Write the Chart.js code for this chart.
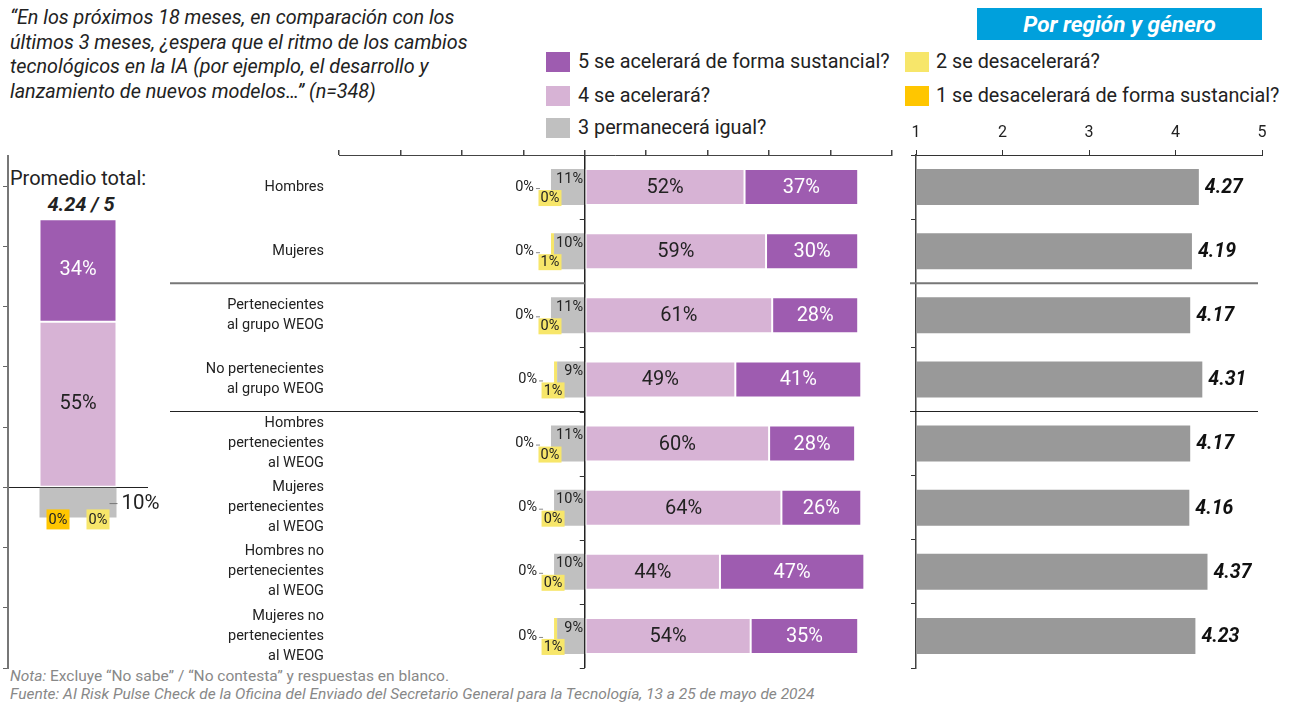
<!DOCTYPE html>
<html>
<head>
<meta charset="utf-8">
<script src="https://cdn.jsdelivr.net/npm/chart.js@4/dist/chart.umd.min.js"></script>
<style>
  body { margin: 0; background: #fff; font-family: Roboto, sans-serif; color: #222; }
  #wrap { position: relative; width: 1293px; height: 702px; overflow: hidden; }
  canvas { position: absolute; left: 0; top: 0; }
  .t { position: absolute; white-space: nowrap; }
  .sw { position: absolute; width: 24px; height: 20px; }
  .leg { position: absolute; font-size: 19.8px; line-height: 20px; color: #222; white-space: nowrap; }
</style>
</head>
<body>
<div id="wrap">
  <div class="t" style="left:10px;top:6px;font-size:19.8px;line-height:24.5px;font-style:italic;color:#222">“En los próximos 18 meses, en comparación con los<br>últimos 3 meses, ¿espera que el ritmo de los cambios<br>tecnológicos en la IA (por ejemplo, el desarrollo y<br>lanzamiento de nuevos modelos…” (n=348)</div>

  <div class="t" style="left:977px;top:8px;width:285px;height:32px;background:#00a0dc;color:#fff;font-weight:bold;font-style:italic;font-size:22.5px;line-height:32px;text-align:center">Por región y género</div>

  <div class="sw" style="left:546px;top:52px;background:#9e5cb0"></div>
  <div class="leg" style="left:578px;top:52px">5 se acelerará de forma sustancial?</div>
  <div class="sw" style="left:546px;top:86px;background:#d7b3d5"></div>
  <div class="leg" style="left:578px;top:86px">4 se acelerará?</div>
  <div class="sw" style="left:546px;top:118px;background:#c0c0c0"></div>
  <div class="leg" style="left:578px;top:118px">3 permanecerá igual?</div>
  <div class="sw" style="left:905px;top:52px;background:#f7e66a"></div>
  <div class="leg" style="left:936px;top:52px">2 se desacelerará?</div>
  <div class="sw" style="left:905px;top:86px;background:#ffc600"></div>
  <div class="leg" style="left:936px;top:86px">1 se desacelerará de forma sustancial?</div>

  <div class="t" style="left:10px;top:166px;font-size:20px;line-height:24px">Promedio total:</div>
  <div class="t" style="left:0px;width:162px;top:192px;font-size:20px;line-height:24px;font-weight:bold;font-style:italic;text-align:center">4.24 / 5</div>

  <div class="t" style="left:10px;top:667px;font-size:15.5px;line-height:18px;color:#888"><i>Nota:</i> Excluye “No sabe” / “No contesta” y respuestas en blanco.</div>
  <div class="t" style="left:10px;top:685px;font-size:15.5px;line-height:18px;color:#888;font-style:italic">Fuente: AI Risk Pulse Check de la Oficina del Enviado del Secretario General para la Tecnología, 13 a 25 de mayo de 2024</div>

  <canvas id="total" width="1293" height="702"></canvas>
  <canvas id="medio" width="1293" height="702"></canvas>
  <canvas id="promedio" width="1293" height="702"></canvas>
</div>

<script>
// categorias
var categorias = [
  ['Hombres'],
  ['Mujeres'],
  ['Pertenecientes', 'al grupo WEOG'],
  ['No pertenecientes', 'al grupo WEOG'],
  ['Hombres', 'pertenecientes', 'al WEOG'],
  ['Mujeres', 'pertenecientes', 'al WEOG'],
  ['Hombres no', 'pertenecientes', 'al WEOG'],
  ['Mujeres no', 'pertenecientes', 'al WEOG']
];

// porcentajes por respuesta (5 = se acelerara de forma sustancial ... 1 = se desacelerara de forma sustancial)
var acelSustancial = [37, 30, 28, 41, 28, 26, 47, 35];
var acelera = [52, 59, 61, 49, 60, 64, 44, 54];
var igual = [11, 10, 11, 9, 11, 10, 10, 9];
var desacelera = [0, 1, 0, 1, 0, 0, 0, 1];
var desacelSustancial = [0, 0, 0, 0, 0, 0, 0, 0];

// promedio 1-5
var promedios = [4.27, 4.19, 4.17, 4.31, 4.17, 4.16, 4.37, 4.23];

// total
var totalCategoria = ['Total'];
var total5 = [34];
var total4 = [55];
var total3 = [10];
var total2 = [0];
var total1 = [0];
var ticksTotal = [-60, -40, -20, 0, 20, 40, 60, 80, 100];

var morado = '#9e5cb0';
var lila = '#d7b3d5';
var gris = '#c0c0c0';
var amarillo = '#f7e66a';
var naranja = '#ffc600';

Chart.defaults.font.family = 'Roboto, sans-serif';
Chart.defaults.color = '#222';

function negativo(arr) {
  return arr.map(function(v) { return -v; });
}

function cajita(ctx, color, cx, cy, w, h, texto) {
  ctx.fillStyle = color;
  ctx.fillRect(cx - w / 2, cy - h / 2, w, h);
  ctx.fillStyle = '#222';
  ctx.textAlign = 'center';
  ctx.fillText(texto, cx, cy + 0.5);
}

var etiquetasTotal = {
  id: 'etiquetasTotal',
  afterDatasetsDraw: function(chart) {
    var ctx = chart.ctx;
    var g = chart.getDatasetMeta(0).data[0];
    var l = chart.getDatasetMeta(3).data[0];
    var m = chart.getDatasetMeta(4).data[0];
    var izq = l.x - l.width / 2;
    var der = l.x + l.width / 2;
    ctx.save();
    ctx.textBaseline = 'middle';
    ctx.textAlign = 'center';
    ctx.font = '20px Roboto';
    ctx.fillStyle = '#fff';
    ctx.fillText(total5[0] + '%', m.x, (m.y + m.base) / 2);
    ctx.fillStyle = '#222';
    ctx.fillText(total4[0] + '%', l.x, (l.y + l.base) / 2);

    // 10% con linea guia
    var yg = (g.y + g.base) / 2 + 1;
    ctx.strokeStyle = '#777';
    ctx.lineWidth = 1;
    ctx.beginPath();
    ctx.moveTo(der - 7, yg);
    ctx.lineTo(der + 1, yg);
    ctx.stroke();
    ctx.font = '20.5px Roboto';
    ctx.textAlign = 'left';
    ctx.fillText(total3[0] + '%', der + 5, yg);

    ctx.font = '14.5px Roboto';
    cajita(ctx, naranja, izq + 18.5, g.y + 2, 23, 20, total1[0] + '%');
    cajita(ctx, amarillo, izq + 58.5, g.y + 2, 23, 20, total2[0] + '%');
    ctx.restore();
  }
};

var etiquetasMedio = {
  id: 'etiquetasMedio',
  afterDatasetsDraw: function(chart) {
    var ctx = chart.ctx;
    var x = chart.scales.x;
    var y = chart.scales.y;
    var area = chart.chartArea;
    var cero = x.getPixelForValue(0);
    ctx.save();

    // marcas de categoria sobre el eje cero
    ctx.strokeStyle = '#333';
    ctx.lineWidth = 1;
    var paso = (area.bottom - area.top) / categorias.length;
    for (var i = 0; i <= categorias.length; i++) {
      var yy = Math.round(area.top + i * paso) + 0.5;
      ctx.beginPath();
      ctx.moveTo(cero - 5, yy);
      ctx.lineTo(cero, yy);
      ctx.stroke();
    }

    // separadores de grupos
    [[1, 2, '#777', 2], [3, 4, '#222', 1.2]].forEach(function(s) {
      var ys = (y.getPixelForValue(s[0]) + y.getPixelForValue(s[1])) / 2;
      ctx.strokeStyle = s[2];
      ctx.lineWidth = s[3];
      ctx.beginPath();
      ctx.moveTo(170, ys);
      ctx.lineTo(cero, ys);
      ctx.stroke();
    });

    ctx.textBaseline = 'middle';
    categorias.forEach(function(c, j) {
      var g = chart.getDatasetMeta(0).data[j];
      var a = chart.getDatasetMeta(1).data[j];
      var n = chart.getDatasetMeta(2).data[j];
      var l = chart.getDatasetMeta(3).data[j];
      var m = chart.getDatasetMeta(4).data[j];

      ctx.font = '20px Roboto';
      ctx.textAlign = 'center';
      ctx.fillStyle = '#222';
      ctx.fillText(acelera[j] + '%', (l.x + l.base) / 2, l.y + 1);
      ctx.fillStyle = '#fff';
      ctx.fillText(acelSustancial[j] + '%', (m.x + m.base) / 2, m.y + 1);

      ctx.font = '14.5px Roboto';
      ctx.textAlign = 'right';
      ctx.fillStyle = '#222';
      ctx.fillText(igual[j] + '%', g.base - 1, g.y - 8);

      cajita(ctx, amarillo, a.x - 1, a.y + 11, 23, 16, desacelera[j] + '%');

      ctx.textAlign = 'right';
      ctx.fillStyle = '#222';
      ctx.fillText(desacelSustancial[j] + '%', n.x - 17, n.y);
      ctx.strokeStyle = '#888';
      ctx.lineWidth = 1;
      ctx.beginPath();
      ctx.moveTo(n.x - 15, n.y + 1.5);
      ctx.lineTo(n.x - 11, n.y + 1.5);
      ctx.stroke();
    });
    ctx.restore();
  }
};

var etiquetasPromedio = {
  id: 'etiquetasPromedio',
  afterDatasetsDraw: function(chart) {
    var ctx = chart.ctx;
    var y = chart.scales.y;
    var x = chart.scales.x;
    ctx.save();
    [[1, 2, '#777', 2], [3, 4, '#222', 1.2]].forEach(function(s) {
      var ys = (y.getPixelForValue(s[0]) + y.getPixelForValue(s[1])) / 2;
      ctx.strokeStyle = s[2];
      ctx.lineWidth = s[3];
      ctx.beginPath();
      ctx.moveTo(x.left - 6, ys);
      ctx.lineTo(x.right - 4, ys);
      ctx.stroke();
    });
    ctx.font = 'italic bold 19.5px Roboto';
    ctx.textBaseline = 'middle';
    ctx.textAlign = 'left';
    ctx.fillStyle = '#111';
    chart.getDatasetMeta(0).data.forEach(function(b, j) {
      ctx.fillText(promedios[j].toFixed(2), b.x + 6, b.y + 1);
    });
    ctx.restore();
  }
};

function dibujar() {
  // barra del total
  new Chart(document.getElementById('total'), {
    type: 'bar',
    data: {
      labels: totalCategoria,
      datasets: [
        { label: '3', data: negativo(total3), backgroundColor: gris },
        { label: '2', data: negativo(total2), backgroundColor: amarillo },
        { label: '1', data: negativo(total1), backgroundColor: naranja },
        { label: '4', data: total4, backgroundColor: lila, borderColor: '#fff', borderWidth: 1, borderSkipped: false },
        { label: '5', data: total5, backgroundColor: morado, borderColor: '#fff', borderWidth: 1, borderSkipped: false }
      ]
    },
    options: {
      responsive: false,
      animation: false,
      layout: { padding: { left: 3, right: 1145, top: 156, bottom: 34 } },
      plugins: { legend: { display: false }, tooltip: { enabled: false } },
      datasets: { bar: { barPercentage: 0.55, categoryPercentage: 1 } },
      scales: {
        x: { display: false, stacked: true },
        y: {
          stacked: true,
          min: -60,
          max: 110,
          afterBuildTicks: function(s) { s.ticks = ticksTotal.map(function(v) { return { value: v }; }); },
          afterFit: function(s) { s.width = 5; },
          ticks: { display: false },
          grid: {
            color: function(c) { return c.tick && c.tick.value === 0 ? '#222' : 'rgba(0,0,0,0)'; },
            tickColor: '#666',
            tickLength: 5
          },
          border: { color: '#777', width: 2 }
        }
      }
    },
    plugins: [etiquetasTotal]
  });

  // barras divergentes
  new Chart(document.getElementById('medio'), {
    type: 'bar',
    data: {
      labels: categorias,
      datasets: [
        { label: '3 permanecerá igual?', data: negativo(igual), backgroundColor: gris },
        { label: '2 se desacelerará?', data: negativo(desacelera), backgroundColor: amarillo },
        { label: '1 se desacelerará de forma sustancial?', data: negativo(desacelSustancial), backgroundColor: naranja },
        { label: '4 se acelerará?', data: acelera, backgroundColor: lila, borderColor: '#fff', borderWidth: 1, borderSkipped: false },
        { label: '5 se acelerará de forma sustancial?', data: acelSustancial, backgroundColor: morado, borderColor: '#fff', borderWidth: 1, borderSkipped: false }
      ]
    },
    options: {
      indexAxis: 'y',
      responsive: false,
      animation: false,
      layout: { padding: { left: 150, right: 401, top: 150, bottom: 34 } },
      plugins: { legend: { display: false }, tooltip: { enabled: false } },
      datasets: { bar: { barPercentage: 0.56, categoryPercentage: 1 } },
      scales: {
        x: {
          position: 'top',
          stacked: true,
          min: -80,
          max: 100,
          ticks: { display: false, stepSize: 20 },
          grid: {
            color: function(c) { return c.tick && c.tick.value === 0 ? '#222' : 'rgba(0,0,0,0)'; },
            tickColor: '#444',
            tickLength: 5,
            lineWidth: 1.5
          },
          border: { color: '#444', width: 1 },
          afterFit: function(s) { s.height = 5; }
        },
        y: {
          stacked: true,
          ticks: { color: '#222', font: { size: 14.5, lineHeight: 1.38 }, padding: 15 },
          grid: { display: false, drawTicks: false },
          border: { display: false },
          afterFit: function(s) { s.width = 189; }
        }
      }
    },
    plugins: [etiquetasMedio]
  });

  // promedios
  new Chart(document.getElementById('promedio'), {
    type: 'bar',
    data: {
      labels: categorias,
      datasets: [
        { label: 'Promedio', data: promedios, backgroundColor: '#999999' }
      ]
    },
    options: {
      indexAxis: 'y',
      responsive: false,
      animation: false,
      layout: { padding: { left: 911, right: 31, top: 115, bottom: 34 } },
      plugins: { legend: { display: false }, tooltip: { enabled: false } },
      datasets: { bar: { barPercentage: 0.56, categoryPercentage: 1 } },
      scales: {
        x: {
          position: 'top',
          min: 1,
          max: 5,
          ticks: { stepSize: 1, color: '#222', font: { size: 16 }, padding: 7 },
          grid: { drawOnChartArea: false, tickLength: 5, color: '#333' },
          border: { color: '#333', width: 1 },
          afterFit: function(s) { s.height = 40; }
        },
        y: {
          ticks: { display: false },
          grid: { drawOnChartArea: false, tickLength: 5, color: '#333', offset: true },
          border: { color: '#444', width: 1.5 },
          afterFit: function(s) { s.width = 5; }
        }
      }
    },
    plugins: [etiquetasPromedio]
  });
}

document.addEventListener('DOMContentLoaded', function() {
  if (document.fonts && document.fonts.load) {
    Promise.all([
      document.fonts.load('17px Roboto'),
      document.fonts.load('italic bold 18px Roboto')
    ]).then(dibujar, dibujar);
  } else {
    dibujar();
  }
});
</script>
</body>
</html>
